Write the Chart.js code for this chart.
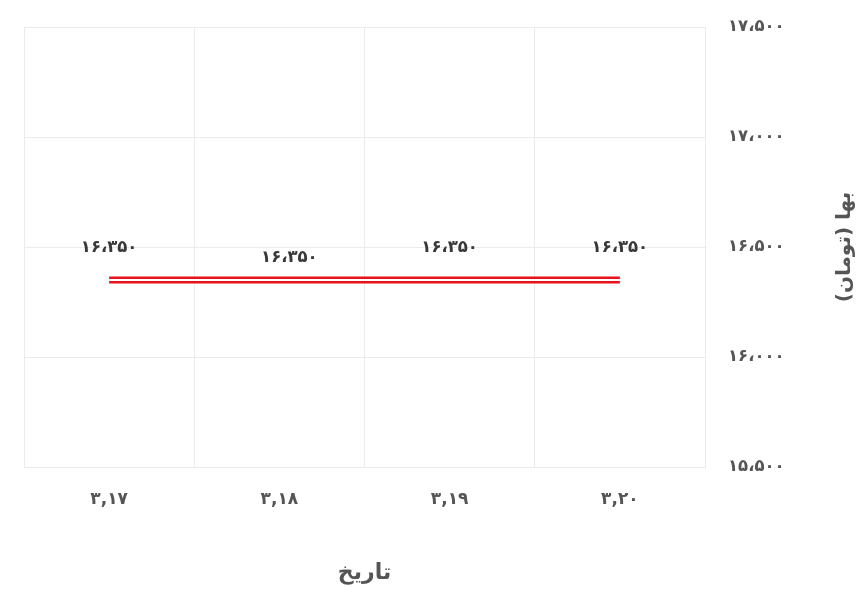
<!DOCTYPE html>
<html>
<head>
<meta charset="utf-8">
<script src="https://cdn.jsdelivr.net/npm/chart.js@4/dist/chart.umd.min.js"></script>
<style>
html,body{margin:0;padding:0;background:#fff;}
#wrap{width:860px;height:595px;}
</style>
</head>
<body>
<div id="wrap"><canvas id="c" width="860" height="595"></canvas></div>
<script>
const categories = ['۳,۱۷', '۳,۱۸', '۳,۱۹', '۳,۲۰'];
const prices = [16350, 16350, 16350, 16350];
const priceLabels = ['۱۶،۳۵۰', '۱۶،۳۵۰', '۱۶،۳۵۰', '۱۶،۳۵۰'];
const yTickValues = [15500, 16000, 16500, 17000, 17500];
const yTickLabels = ['۱۵،۵۰۰', '۱۶،۰۰۰', '۱۶،۵۰۰', '۱۷،۰۰۰', '۱۷،۵۰۰'];
const xTitle = 'تاریخ';
const yTitle = 'بها (تومان)';

const FONT = "'DejaVu Sans', sans-serif";

const labelPlugin = {
  id: 'pointLabels',
  afterDatasetsDraw(chart) {
    const meta = chart.getDatasetMeta(0);
    const ctx = chart.ctx;
    ctx.save();
    ctx.font = 'bold 16.5px ' + FONT;
    ctx.fillStyle = '#383838';
    ctx.textAlign = 'center';
    ctx.textBaseline = 'middle';
    const shifts = [[0, 0], [10, 10], [0, 0], [0, 0]];
    meta.data.forEach((pt, i) => {
      const s = shifts[i] || [0, 0];
      ctx.fillText(priceLabels[i], pt.x + s[0], pt.y - 32 + s[1]);
    });
    ctx.restore();
  }
};

const yTitlePlugin = {
  id: 'yTitleLeftRot',
  afterDraw(chart) {
    const ca = chart.chartArea;
    const ctx = chart.ctx;
    ctx.save();
    ctx.translate(845, (ca.top + ca.bottom) / 2);
    ctx.rotate(-Math.PI / 2);
    ctx.font = 'bold 20px ' + FONT;
    ctx.fillStyle = '#555';
    ctx.textAlign = 'center';
    ctx.textBaseline = 'middle';
    ctx.fillText(yTitle, 0, 0);
    ctx.restore();
  }
};

new Chart(document.getElementById('c'), {
  type: 'line',
  data: {
    labels: categories,
    datasets: [
      {
        data: prices,
        borderColor: '#ffffff',
        borderWidth: 2,
        pointRadius: 0,
        pointHoverRadius: 0,
        fill: false,
        order: 0
      },
      {
        data: prices,
        borderColor: '#e8121c',
        borderWidth: 7,
        pointRadius: 0,
        pointHoverRadius: 0,
        fill: false,
        order: 1
      }
    ]
  },
  options: {
    responsive: false,
    animation: false,
    events: [],
    layout: { padding: { top: 27, left: 24, right: 0, bottom: 0 } },
    plugins: {
      legend: { display: false },
      tooltip: { enabled: false }
    },
    scales: {
      x: {
        offset: true,
        grid: { offset: true, color: '#ebebeb', lineWidth: 1, drawTicks: false },
        border: { color: '#ebebeb' },
        ticks: {
          padding: 22,
          color: '#555',
          font: { family: FONT, size: 17, weight: 'bold' },
          maxRotation: 0
        },
        title: {
          display: true,
          text: xTitle,
          color: '#555',
          font: { family: FONT, size: 22, weight: 'bold' },
          padding: { top: 0, bottom: 9 }
        },
        afterFit(scale) {
          scale.height = 128;
          scale.paddingLeft = 0;
          scale.paddingRight = 0;
        }
      },
      y: {
        position: 'right',
        min: 15500,
        max: 17500,
        grid: { color: '#ebebeb', lineWidth: 1, drawTicks: false },
        border: { color: '#ebebeb' },
        afterBuildTicks(scale) {
          scale.ticks = yTickValues.map(v => ({ value: v }));
        },
        ticks: {
          padding: 23,
          color: '#555',
          font: { family: FONT, size: 16.5, weight: 'bold' },
          callback(value) {
            const i = yTickValues.indexOf(value);
            return i >= 0 ? yTickLabels[i] : '';
          }
        },
        title: { display: false },
        afterFit(scale) {
          scale.width = 155;
          scale.paddingTop = 0;
          scale.paddingBottom = 0;
        }
      }
    }
  },
  plugins: [labelPlugin, yTitlePlugin]
});
</script>
</body>
</html>
